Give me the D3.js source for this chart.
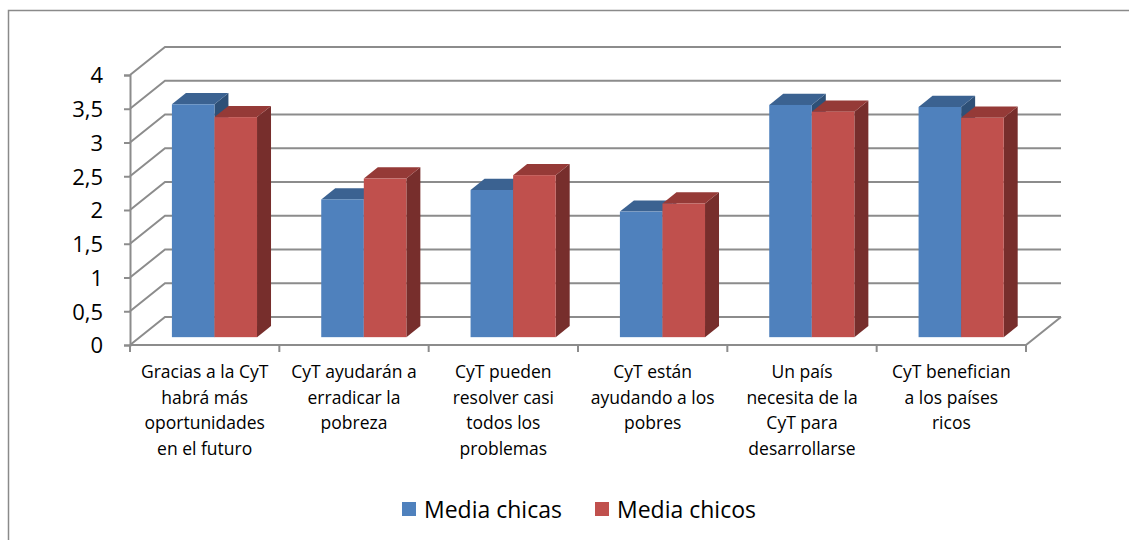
<!DOCTYPE html>
<html>
<head>
<meta charset="utf-8">
<script src="https://cdn.jsdelivr.net/npm/d3@7"></script>
<style>
  body { margin: 0; background: #fff; }
  svg { display: block; font-family: "Open Sans", Lato, sans-serif; }
</style>
</head>
<body>
<div class="chart-container"></div>
<script>
// data
const categories = [
  "Gracias a la CyT\nhabrá más\noportunidades\nen el futuro",
  "CyT ayudarán a\nerradicar la\npobreza",
  "CyT pueden\nresolver casi\ntodos los\nproblemas",
  "CyT están\nayudando a los\npobres",
  "Un país\nnecesita de la\nCyT para\ndesarrollarse",
  "CyT benefician\na los países\nricos"
];
const seriesNames = ["Media chicas", "Media chicos"];
const chicas = [3.45, 2.04, 2.18, 1.86, 3.44, 3.41];
const chicos = [3.26, 2.35, 2.40, 1.98, 3.34, 3.25];
const yTicks = [0, 0.5, 1, 1.5, 2, 2.5, 3, 3.5, 4];

const width = 1129, height = 540;
const colors = {
  "Media chicas": { front: "#4f81bd", top: "#3b6291", side: "#2e5077" },
  "Media chicos": { front: "#c0504d", top: "#953a37", side: "#772e2c" }
};

// depth offset of the 3d box (back wall relative to front plane)
const depthX = 35, depthY = -28;
const off = (d) => [depthX * d, depthY * d];
const barFront = 0.28, barBack = 0.68;

const svg = d3.select('.chart-container')
  .append('svg')
  .attr('width', width)
  .attr('height', height);

// outer chart frame (only top and left edges show)
svg.append('path')
  .attr('d', 'M8.5,540V10.5H1129')
  .attr('fill', 'none')
  .attr('stroke', '#8a8a8a')
  .attr('stroke-width', 1.5);

const x = d3.scaleBand()
  .domain(d3.range(categories.length))
  .range([130, 1026])
  .padding(0);

const y = d3.scaleLinear()
  .domain([0, 4])
  .range([345, 75]);

const groupW = x.bandwidth() * 0.57;
const x1 = d3.scaleBand()
  .domain(seriesNames)
  .range([0, groupW]);

const grid = svg.append('g')
  .attr('fill', 'none')
  .attr('stroke', '#8c8c8c')
  .attr('stroke-width', 2);

const [bx, by] = off(1);
// left wall diagonals + back wall lines
yTicks.forEach((v) => {
  grid.append('path')
    .attr('d', `M${x.range()[0]},${y(v)}l${bx},${by}H${x.range()[1] + bx}`);
});
// floor front edge and right diagonal
grid.append('path')
  .attr('d', `M${x.range()[0]},${y(0)}H${x.range()[1]}l${bx},${by}`);

// y axis
const yAxis = d3.axisLeft(y)
  .tickValues(yTicks)
  .tickSize(6)
  .tickFormat((d) => String(d).replace('.', ','));

const gy = svg.append('g')
  .attr('transform', 'translate(' + x.range()[0] + ',0)')
  .call(yAxis);
gy.select('.domain').attr('stroke', '#8c8c8c').attr('stroke-width', 2);
gy.selectAll('.tick line').attr('stroke', '#8c8c8c').attr('stroke-width', 2);
gy.selectAll('.tick text')
  .attr('x', -27)
  .attr('dy', '0.36em')
  .attr('fill', '#000')
  .attr('font-size', 22)
  .attr('font-family', '"Open Sans", sans-serif');

// x axis ticks at category boundaries
const bounds = d3.range(categories.length + 1).map((i) => x.range()[0] + i * x.bandwidth());
svg.append('g')
  .selectAll('line')
  .data(bounds)
  .join('line')
  .attr('x1', (d) => d).attr('x2', (d) => d)
  .attr('y1', y(0)).attr('y2', y(0) + 7)
  .attr('stroke', '#8c8c8c')
  .attr('stroke-width', 2);

// bars
const rows = [];
categories.forEach((c, i) => {
  rows.push({ i, s: "Media chicas", v: chicas[i] });
  rows.push({ i, s: "Media chicos", v: chicos[i] });
});

const [fx, fy] = off(barFront);
const [dx, dy] = [depthX * (barBack - barFront), depthY * (barBack - barFront)];

const bars = svg.append('g').selectAll('g')
  .data(rows)
  .join('g')
  .attr('transform', (d) => {
    const left = x(d.i) + (x.bandwidth() - groupW) / 2 + x1(d.s) + fx;
    return 'translate(' + left + ',' + fy + ')';
  });

const bw = x1.bandwidth();
bars.append('path')
  .attr('fill', (d) => colors[d.s].side)
  .attr('d', (d) => `M${bw},${y(d.v)}l${dx},${dy}V${y(0) + dy}l${-dx},${-dy}Z`);
bars.append('path')
  .attr('fill', (d) => colors[d.s].top)
  .attr('d', (d) => `M0,${y(d.v)}l${dx},${dy}h${bw}l${-dx},${-dy}Z`);
bars.append('rect')
  .attr('x', 0)
  .attr('y', (d) => y(d.v))
  .attr('width', bw)
  .attr('height', (d) => y(0) - y(d.v))
  .attr('fill', (d) => colors[d.s].front);

// category labels
const labels = svg.append('g')
  .selectAll('text')
  .data(categories)
  .join('text')
  .attr('text-anchor', 'middle')
  .attr('font-size', 17.5)
  .attr('fill', '#000')
  .attr('transform', (d, i) => 'translate(' + (x(i) + x.bandwidth() / 2) + ',378)');

labels.selectAll('tspan')
  .data((d) => d.split('\n'))
  .join('tspan')
  .attr('x', 0)
  .attr('y', (d, j) => j * 25.5)
  .text((d) => d);

// legend
const legendX = [402, 595];
const legend = svg.append('g')
  .selectAll('g')
  .data(seriesNames)
  .join('g')
  .attr('transform', (d, i) => 'translate(' + legendX[i] + ',502)');
legend.append('rect')
  .attr('width', 14).attr('height', 14)
  .attr('fill', (d) => colors[d].front);
legend.append('text')
  .attr('x', 22)
  .attr('y', 16)
  .attr('font-size', 23)
  .attr('fill', '#000')
  .text((d) => d);
</script>
</body>
</html>
